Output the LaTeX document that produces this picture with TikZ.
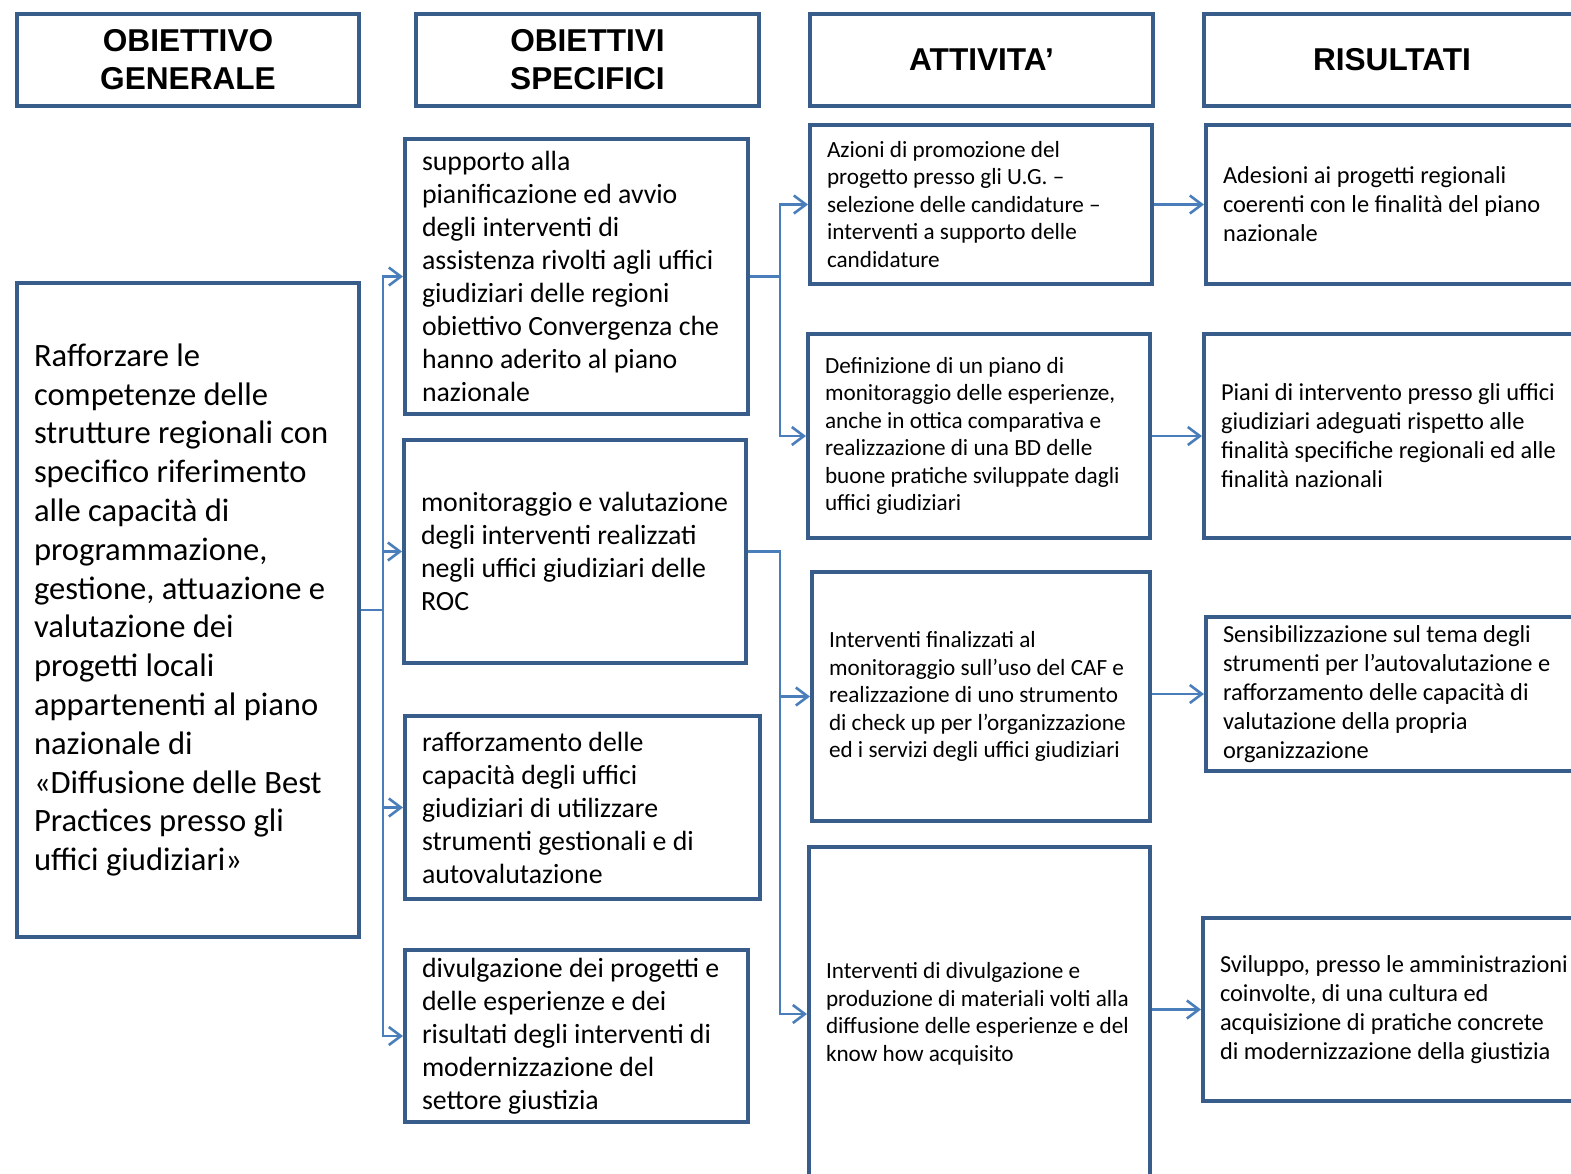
\documentclass[tikz,border=0pt]{standalone}
\usepackage{fontspec}
\setmainfont{Carlito}
\newfontfamily\headfamily{Liberation Sans}
\usetikzlibrary{arrows.meta}
\definecolor{boxblue}{HTML}{385D8A}
\definecolor{linkblue}{HTML}{4A7EBB}

\begin{document}
\begin{tikzpicture}[
    x=0.5pt,
    y=-0.5pt,
    box/.style={draw=boxblue, line width=2pt, inner xsep=8.5pt, inner ysep=0pt, align=left,
      execute at begin node={\spaceskip=0pt\xspaceskip=0pt\rightskip=0pt plus 1fil minus 8pt\hyphenpenalty=10000\relax}},
    headbox/.style={box, align=center, minimum height=46pt,
      font=\headfamily\bfseries\fontsize{15.8}{19}\selectfont},
    genbox/.style={box, font=\fontsize{16.3}{19.4}\selectfont},
    specbox/.style={box, font=\fontsize{13.9}{16.5}\selectfont},
    actbox/.style={box, font=\fontsize{11.6}{13.75}\selectfont},
    resbox/.style={box, font=\fontsize{12.2}{14.5}\selectfont},
    link/.style={draw=linkblue, line width=1.3pt, -{Straight Barb[length=6pt,width=9pt]}}
  ]
    % Page frame in pixel units, y pointing down.
    \clip (0,0) rectangle (1571,1174);

    % Column headers.
    \node[headbox, minimum width=171pt] (hog) at (188,60) {OBIETTIVO\\GENERALE};
    \node[headbox, minimum width=171.5pt] (hos) at (587.5,60) {OBIETTIVI\\SPECIFICI};
    \node[headbox, minimum width=171.5pt] (hatt) at (981.5,60) {ATTIVITA’};
    \node[headbox, minimum width=188pt] (hris) at (1392,60) {RISULTATI};

    % General objective.
    \node[genbox, minimum width=171pt, minimum height=327pt, text width=154pt] (og) at (188,610)
      {Rafforzare le\\competenze delle\\strutture regionali con\\specifico riferimento\\alle capacità di\\programmazione,\\gestione, attuazione e\\valutazione dei\\progetti locali\\appartenenti al piano\\nazionale di\\«Diffusione delle Best\\Practices presso gli\\uffici giudiziari»};

    % Specific objectives.
    \node[specbox, minimum width=171.5pt, minimum height=137.5pt, text width=154.5pt] (s1) at (576.5,276.5)
      {supporto alla\\pianificazione ed avvio\\degli interventi di\\assistenza rivolti agli uffici\\giudiziari delle regioni\\obiettivo Convergenza che\\hanno aderito al piano\\nazionale};
    \node[specbox, minimum width=171pt, minimum height=111.5pt, text width=154pt] (s2) at (575,551.5)
      {monitoraggio e valutazione\\degli interventi realizzati\\negli uffici giudiziari delle\\ROC};
    \node[specbox, minimum width=177.5pt, minimum height=91.5pt, text width=160.5pt] (s3) at (582.5,807.5)
      {rafforzamento delle\\capacità degli uffici\\giudiziari di utilizzare\\strumenti gestionali e di\\autovalutazione};
    \node[specbox, minimum width=171.5pt, minimum height=86pt, text width=154.5pt] (s4) at (576.5,1036)
      {divulgazione dei progetti e\\delle esperienze e dei\\risultati degli interventi di\\modernizzazione del\\settore giustizia};

    % Activities.
    \node[actbox, minimum width=171pt, minimum height=79.5pt, text width=154pt] (a1) at (981,204.5)
      {Azioni di promozione del\\progetto presso gli U.G. –\\selezione delle candidature –\\interventi a supporto delle\\candidature};
    \node[actbox, minimum width=171pt, minimum height=102pt, text width=154pt] (a2) at (979,436)
      {Definizione di un piano di\\monitoraggio delle esperienze,\\anche in ottica comparativa e\\realizzazione di una BD delle\\buone pratiche sviluppate dagli\\uffici giudiziari};
    \node[actbox, minimum width=169pt, minimum height=124.5pt, text width=152pt] (a3) at (981,696.5)
      {Interventi finalizzati al\\monitoraggio sull’uso del CAF e\\realizzazione di uno strumento\\di check up per l’organizzazione\\ed i servizi degli uffici giudiziari};
    \node[actbox, minimum width=170.5pt, minimum height=167pt, text width=153.5pt] (a4) at (979.5,1014)
      {Interventi di divulgazione e\\produzione di materiali volti alla\\diffusione delle esperienze e del\\know how acquisito};

    % Results.
    \node[resbox, minimum width=207pt, minimum height=79.5pt, text width=190pt] (r1) at (1413,204.5)
      {Adesioni ai progetti regionali\\coerenti con le finalità del piano\\nazionale};
    \node[resbox, minimum width=208pt, minimum height=102pt, text width=191pt] (r2) at (1412,436)
      {Piani di intervento presso gli uffici\\giudiziari adeguati rispetto alle\\finalità specifiche regionali ed alle\\finalità nazionali};
    \node[resbox, minimum width=207pt, minimum height=77pt, text width=190pt] (r3) at (1413,694)
      {Sensibilizzazione sul tema degli\\strumenti per l’autovalutazione e\\rafforzamento delle capacità di\\valutazione della propria\\organizzazione};
    \node[resbox, minimum width=208.5pt, minimum height=91.5pt, text width=191.5pt] (r4) at (1411.5,1009.5)
      {Sviluppo, presso le amministrazioni\\coinvolte, di una cultura ed\\acquisizione di pratiche concrete\\di modernizzazione della giustizia};

    % Forks.
    \coordinate (ogfork) at (383,610);
    \coordinate (s1fork) at (780,276.5);
    \coordinate (s2fork) at (780,551.5);

    \foreach \s in {s1,s2,s3,s4}
      \draw[link] (og.east) -- (ogfork) |- (\s.west);
    \foreach \a in {a1,a2}
      \draw[link] (s1.east) -- (s1fork) |- (\a.west);
    \foreach \a in {a3,a4}
      \draw[link] (s2.east) -- (s2fork) |- (\a.west);

    \draw[link] (a1.east) -- (r1.west);
    \draw[link] (a2.east) -- (r2.west);
    \draw[link] (a3.east |- r3.west) -- (r3.west);
    \draw[link] (a4.east |- r4.west) -- (r4.west);
  \end{tikzpicture}
\end{document}
